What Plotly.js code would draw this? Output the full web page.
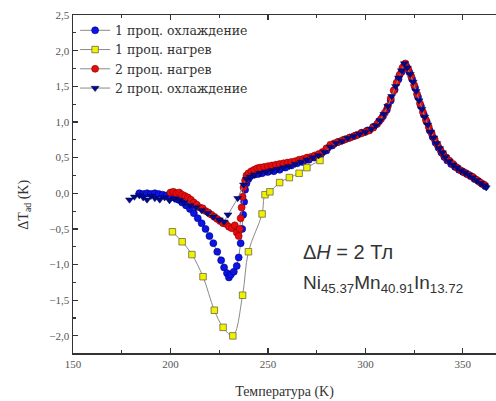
<!DOCTYPE html>
<html>
<head>
<meta charset="utf-8">
<script src="https://cdn.plot.ly/plotly-3.0.1.min.js"></script>
<style>html,body{margin:0;padding:0;background:#fff;}#chart{width:496px;height:401px;}</style>
</head>
<body>
<div id="chart"></div>
<script>
// 1 проц. охлаждение (blue circles)
const cool1T = [184,186,188,190,192,194,196,198,200,202,204,206,208,210,212,214,216,218,220,222,224,226,227.5,229,230,231,232.5,234,235,236,236.8,237.3,237.8,238.3,239,240,241,243,245,247,250,253,256,259,262,265,268,271,274,277,280,283,286,289,292,295,298,301,304,307,309,311,313,315,317,318.5,320,321,322.5,324,325.5,327,328.5,330,331.5,333,334.5,336,337.5,339,340.5,342,344,346,348,350,352,354,356,358,360,361.5];
const cool1Y = [0.0,-0.01,0.0,-0.01,0.0,-0.01,-0.02,-0.03,-0.04,-0.06,-0.09,-0.13,-0.17,-0.22,-0.28,-0.35,-0.42,-0.5,-0.6,-0.7,-0.82,-0.94,-1.04,-1.12,-1.18,-1.14,-1.1,-1.02,-0.9,-0.7,-0.5,-0.3,-0.12,0.05,0.14,0.2,0.24,0.26,0.27,0.28,0.3,0.31,0.33,0.36,0.39,0.42,0.44,0.47,0.5,0.54,0.6,0.67,0.72,0.75,0.78,0.81,0.85,0.88,0.93,1.01,1.08,1.17,1.3,1.45,1.6,1.7,1.8,1.78,1.7,1.6,1.48,1.35,1.22,1.1,1.0,0.88,0.79,0.71,0.64,0.57,0.51,0.46,0.41,0.37,0.33,0.3,0.27,0.24,0.2,0.17,0.13,0.1];

// 1 проц. нагрев (yellow squares)
const heat1T = [201,206,211,216.7,222.5,227,232,237,240,247,248.5,251,256,261,266,270,276.7];
const heat1Y = [-0.54,-0.68,-0.86,-1.17,-1.64,-1.88,-2.0,-1.43,-0.82,-0.29,-0.02,0.02,0.15,0.22,0.28,0.36,0.46];

// 2 проц. нагрев (red circles)
const heat2T = [200,201.5,203,204.5,206,207.5,209,210.5,212,213.5,215,216.5,218,219.5,221,222.5,224,225.5,227,228.5,230,231.5,233,234,235,235.5,236,236.5,237,237.5,238.3,239,240,241.5,243,244.5,246,248,250,252,254,256,258,260,262,264,266,268,270,272,274,276,278,280,282,284,286,288,290,292,294,296,298,300,302,304,306,308,310,311.5,313,314.5,316,317.5,319,320.5,322,323.5,325,326.5,328,329.5,331,332.5,334,335.5,337,338.5,340,341.5,343,345,347,349,351,353,355,357,359,361];
const heat2Y = [0.01,0.02,0.0,0.01,-0.02,-0.04,-0.06,-0.09,-0.13,-0.16,-0.2,-0.21,-0.25,-0.27,-0.3,-0.33,-0.36,-0.39,-0.42,-0.43,-0.47,-0.49,-0.45,-0.55,-0.6,-0.5,-0.35,-0.2,-0.05,0.08,0.18,0.25,0.28,0.31,0.33,0.35,0.36,0.37,0.38,0.39,0.4,0.41,0.42,0.43,0.44,0.45,0.47,0.48,0.5,0.51,0.53,0.55,0.58,0.63,0.68,0.7,0.72,0.74,0.76,0.78,0.8,0.82,0.84,0.86,0.88,0.92,0.97,1.04,1.13,1.22,1.33,1.44,1.55,1.66,1.76,1.82,1.74,1.64,1.52,1.39,1.26,1.14,1.03,0.93,0.84,0.76,0.68,0.61,0.55,0.5,0.46,0.41,0.36,0.32,0.29,0.26,0.23,0.19,0.15,0.12];

// 2 проц. охлаждение (navy triangles)
const cool2T = [179,181.5,184,186,188,190,192,194.5,197,199.5,202,204.5,207,210,213,216,219,222,225,227.5,229.5,234.5,237.5,239,241,243,246,249,252,255,258,261,264,267,270,273,276,279,282,285,288,291,294,297,300,303,305.5,307.5,309.5,311.5,313.5,315.5,317,318.5,320,321.5,323,324.5,326,327.5,329,330.5,332,333.5,335,336.5,338,339.5,341,343,345,347,349,351,353,355,357,359,361,362];
const cool2Y = [-0.09,-0.05,-0.03,-0.06,-0.09,-0.04,-0.07,-0.09,-0.06,-0.1,-0.08,-0.1,-0.13,-0.17,-0.2,-0.24,-0.28,-0.33,-0.37,-0.4,-0.3,-0.07,0.12,0.2,0.23,0.26,0.28,0.3,0.32,0.34,0.36,0.38,0.41,0.44,0.47,0.5,0.53,0.58,0.65,0.7,0.73,0.77,0.8,0.83,0.86,0.9,0.95,1.02,1.11,1.22,1.36,1.5,1.62,1.72,1.82,1.76,1.67,1.56,1.43,1.3,1.18,1.07,0.96,0.86,0.78,0.7,0.63,0.57,0.51,0.45,0.4,0.36,0.32,0.29,0.26,0.22,0.18,0.14,0.11,0.08];

const names = ['1 проц. охлаждение','1 проц. нагрев','2 проц. нагрев','2 проц. охлаждение'];
const xTicks = [150,200,250,300,350];
const yTicks = [-2.0,-1.5,-1.0,-0.5,0.0,0.5,1.0,1.5,2.0,2.5];

const serif = 'Liberation Serif, Times New Roman, serif';
const sans = 'Liberation Sans, Arial, sans-serif';
const lineStyle = {color:'#8a8a8a', width:1};
const traces = [
  {x:cool1T, y:cool1Y, name:names[0], mode:'lines+markers', line:lineStyle,
   marker:{symbol:'circle', size:7, color:'#0a14e6', line:{color:'#00007a', width:0.6}}},
  {x:heat1T, y:heat1Y, name:names[1], mode:'lines+markers', line:{color:'#8a8a8a', width:1, shape:'spline'},
   marker:{symbol:'square', size:6.5, color:'#f2f200', line:{color:'#6a6a40', width:0.8}}},
  {x:heat2T, y:heat2Y, name:names[2], mode:'lines+markers', line:lineStyle,
   marker:{symbol:'circle', size:7, color:'#e60d0d', line:{color:'#8a0000', width:0.6}}},
  {x:cool2T, y:cool2Y, name:names[3], mode:'lines+markers', line:lineStyle,
   marker:{symbol:'triangle-down', size:7, color:'#000a8c', line:{color:'#000050', width:0.5}}}
];

const tickFont = {family:serif, size:11, color:'#555'};
const layout = {
  width:496, height:401,
  margin:{l:73, r:0, t:15, b:48},
  paper_bgcolor:'#fff', plot_bgcolor:'#fff',
  separators:', ',
  showlegend:true,
  legend:{x:0.005, y:0.998, xanchor:'left', yanchor:'top', bgcolor:'rgba(0,0,0,0)',
    font:{family:'DejaVu Serif, serif', size:12.5, color:'#333'},
    tracegroupgap:0, itemwidth:30},
  xaxis:{range:[150,367], tickvals:xTicks, ticks:'inside', ticklen:5, tickwidth:1.2, tickcolor:'#333',
    minor:{dtick:25, ticks:'inside', ticklen:3, tickcolor:'#333'},
    showline:true, linecolor:'#333', linewidth:1.5, mirror:'ticks', showgrid:false, zeroline:false,
    tickfont:tickFont,
    title:{text:'Температура (K)', font:{family:serif, size:14, color:'#333'}, standoff:17}},
  yaxis:{range:[-2.24,2.5], tickvals:yTicks, tickformat:'.1f', ticks:'inside', ticklen:5, tickwidth:1.2, tickcolor:'#333',
    minor:{dtick:0.25, ticks:'inside', ticklen:3, tickcolor:'#333'},
    showline:true, linecolor:'#333', linewidth:1.5, mirror:false, showgrid:false, zeroline:false,
    tickfont:tickFont},
  annotations:[
    {xref:'paper', yref:'paper', x:-0.115, y:0.44, xanchor:'center', yanchor:'middle', showarrow:false, textangle:-90,
     text:'ΔT<sub>ad</sub> (K)', font:{family:serif, size:14, color:'#333'}},
    {xref:'paper', yref:'paper', x:0.54, y:0.298, xanchor:'left', yanchor:'middle', showarrow:false,
     text:'Δ<i>H</i> = 2 Тл', font:{family:sans, size:20, color:'#333'}},
    {xref:'paper', yref:'paper', x:0.54, y:0.205, xanchor:'left', yanchor:'middle', showarrow:false,
     text:'Ni<sub>45.37</sub>Mn<sub>40.91</sub>In<sub>13.72</sub>', font:{family:sans, size:19, color:'#333'}}
  ]
};
Plotly.newPlot('chart', traces, layout, {displayModeBar:false, staticPlot:true});
</script>
</body>
</html>
